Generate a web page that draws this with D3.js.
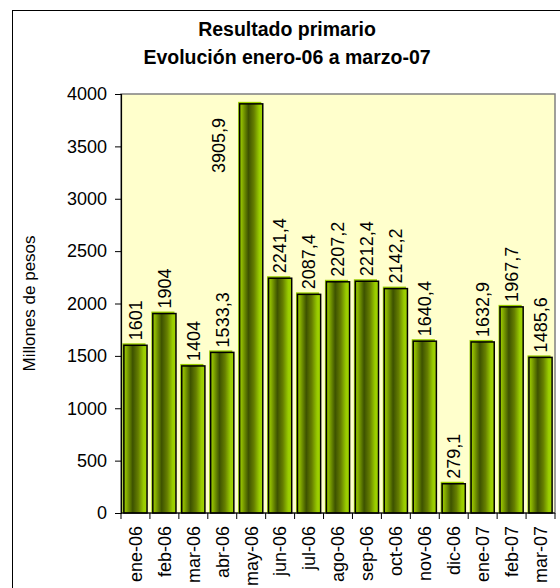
<!DOCTYPE html>
<html>
<head>
<meta charset="utf-8">
<script src="https://cdn.jsdelivr.net/npm/d3@7"></script>
<style>
  body { margin: 0; background: #fff; }
  text { font-family: "Liberation Sans", Arial, sans-serif; fill: #000; }
</style>
</head>
<body>
<svg id="chart" width="560" height="588"></svg>
<script>
// data
const months = ['ene-06', 'feb-06', 'mar-06', 'abr-06', 'may-06', 'jun-06', 'jul-06', 'ago-06',
  'sep-06', 'oct-06', 'nov-06', 'dic-06', 'ene-07', 'feb-07', 'mar-07'];
const values = [1601, 1904, 1404, 1533.3, 3905.9, 2241.4, 2087.4, 2207.2,
  2212.4, 2142.2, 1640.4, 279.1, 1632.9, 1967.7, 1485.6];
const yTicks = [0, 500, 1000, 1500, 2000, 2500, 3000, 3500, 4000];
const titleLines = ['Resultado primario', 'Evolución enero-06 a marzo-07'];

const margin = {top: 94, right: 5, bottom: 75, left: 121};
const width = 560 - margin.left - margin.right;
const height = 588 - margin.top - margin.bottom;

const svg = d3.select('#chart');

// outer chart frame
svg.append('rect')
  .attr('x', 12.5).attr('y', 10.5)
  .attr('width', 560).attr('height', 600)
  .attr('fill', '#fff').attr('stroke', '#000').attr('stroke-width', 1);

const grad = svg.append('defs').append('linearGradient')
  .attr('id', 'barGrad').attr('x1', 0).attr('x2', 1).attr('y1', 0).attr('y2', 0);
[[0, '#9fd000'], [0.12, '#86ad00'], [0.38, '#3d5200'], [0.62, '#667f00'], [0.85, '#99cc00'], [1, '#a3d400']]
  .forEach(([o, c]) => grad.append('stop').attr('offset', o).attr('stop-color', c));

svg.selectAll('text.title')
  .data(titleLines)
  .enter().append('text')
  .attr('class', 'title')
  .attr('x', 287).attr('y', (d, i) => 36 + i * 28)
  .attr('text-anchor', 'middle')
  .style('font-size', '19.5px').style('font-weight', 'bold')
  .text(d => d);

const g = svg.append('g').attr('transform', `translate(${margin.left},${margin.top})`);

const x = d3.scaleBand().domain(months).range([0, width]).paddingInner(0.2).paddingOuter(0.1);
const y = d3.scaleLinear().domain([0, 4000]).range([height, 0]);

g.append('rect')
  .attr('width', width).attr('height', height)
  .attr('fill', '#ffffcc').attr('stroke', '#808080').attr('stroke-width', 1.5);

// bars: lime offset edge, then gradient body with black outline
const bars = g.selectAll('g.bar').data(values).enter().append('g').attr('class', 'bar');
bars.append('rect')
  .attr('x', (d, i) => x(months[i]) - 1.5)
  .attr('y', d => y(d) - 2)
  .attr('width', x.bandwidth()).attr('height', d => height - y(d) + 2)
  .attr('fill', '#99cc00');
bars.append('rect')
  .attr('x', (d, i) => x(months[i]))
  .attr('y', d => y(d))
  .attr('width', x.bandwidth()).attr('height', d => height - y(d))
  .attr('fill', 'url(#barGrad)').attr('stroke', '#000').attr('stroke-width', 1.5);

const fmt = v => String(v).replace('.', ',');
const noRoom = d => y(d) < 90;
g.selectAll('text.val').data(values).enter().append('text')
  .attr('class', 'val')
  .style('font-size', '18px')
  .attr('transform', (d, i) => {
    const cx = x(months[i]) + x.bandwidth() / 2;
    // the tallest bar has no room above it, so its label sits to its left
    if (noRoom(d)) return `translate(${cx - 33},${y(d) + 14}) rotate(-90)`;
    return `translate(${cx},${y(d) - 5}) rotate(-90)`;
  })
  .attr('text-anchor', d => noRoom(d) ? 'end' : 'start')
  .attr('dy', '0.35em')
  .text(d => fmt(d));

// y axis
const yAxis = g.append('g')
  .call(d3.axisLeft(y).tickValues(yTicks).tickFormat(d3.format('d')).tickSize(6).tickPadding(8));
yAxis.select('.domain').attr('stroke', '#000').attr('stroke-width', 1.2);
yAxis.selectAll('.tick line').attr('stroke', '#000');
yAxis.selectAll('text').style('font-size', '18px').attr('font-family', null);

// x axis with ticks between categories
const xg = g.append('g').attr('transform', `translate(0,${height})`);
xg.append('line').attr('x1', 0).attr('x2', width).attr('stroke', '#000').attr('stroke-width', 1.2);
xg.selectAll('line.tk').data(d3.range(months.length + 1)).enter().append('line')
  .attr('class', 'tk')
  .attr('x1', i => i * x.step()).attr('x2', i => i * x.step())
  .attr('y1', 0).attr('y2', 6).attr('stroke', '#000');
xg.selectAll('text').data(months).enter().append('text')
  .style('font-size', '18px')
  .attr('text-anchor', 'end')
  .attr('dy', '0.35em')
  .attr('transform', d => `translate(${x(d) + x.bandwidth() / 2},13) rotate(-90)`)
  .text(d => d);

svg.append('text')
  .style('font-size', '17px')
  .attr('text-anchor', 'middle')
  .attr('dy', '0.35em')
  .attr('transform', `translate(29,${margin.top + height / 2}) rotate(-90)`)
  .text('Millones de pesos');
</script>
</body>
</html>
